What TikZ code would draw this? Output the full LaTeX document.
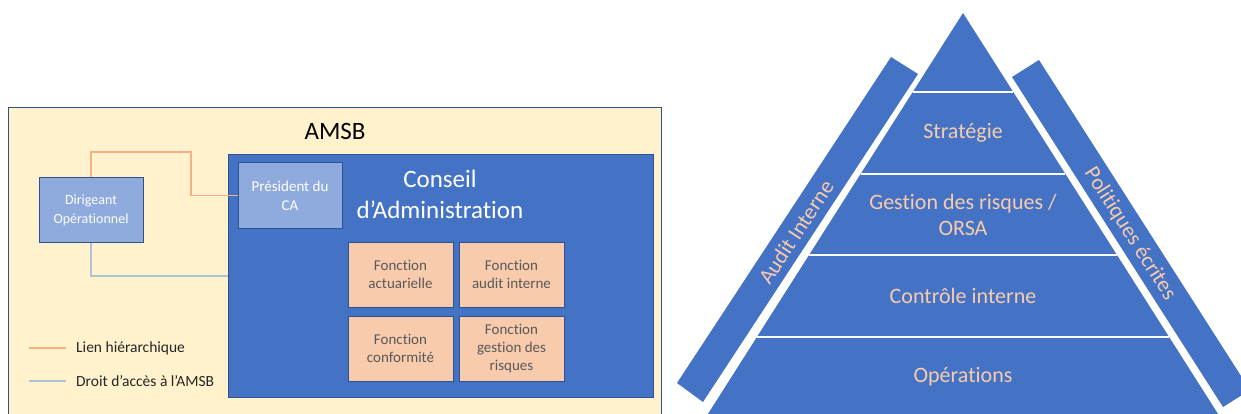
\documentclass[tikz,border=0pt]{standalone}
\usepackage{fontspec}
\setmainfont{Carlito}[Ligatures={NoCommon}]
\definecolor{amsbfill}{HTML}{FFF2CC}
\definecolor{darkb}{HTML}{2F528F}
\definecolor{mainb}{HTML}{4472C4}
\definecolor{lightb}{HTML}{8FAADC}
\definecolor{peach}{HTML}{F8CBAD}
\definecolor{orln}{HTML}{F4B183}
\definecolor{blln}{HTML}{AFC0DA}
\definecolor{greytxt}{HTML}{595959}
\definecolor{legtxt}{HTML}{262626}
\tikzset{
  box/.style={draw=darkb, line width=1pt, inner sep=0pt, align=center},
  person/.style={box, fill=lightb, text=white, minimum width=104pt, font=\fontsize{15}{19}\selectfont},
  fonction/.style={box, fill=peach, text=greytxt, minimum width=105pt, minimum height=65pt, font=\fontsize{15}{18}\selectfont},
  orangeln/.style={draw=orln, line width=1.2pt},
  blueln/.style={draw=blln, line width=1.2pt},
  legend/.style={anchor=west, inner sep=0pt, text=legtxt, font=\fontsize{15.5}{18}\selectfont},
  pyrtxt/.style={text=peach, align=center, inner sep=0pt, font=\fontsize{22}{26}\selectfont},
  sepline/.style={draw=white, line width=1.5pt},
}
\begin{document}
\begin{tikzpicture}[x=1pt,y=-1pt]
\useasboundingbox (0,0) rectangle (1241,414);
\clip (0,0) rectangle (1241,414);
% ---------- left panel ----------
\node[box, fill=amsbfill, minimum width=653pt, minimum height=312pt] (amsbbox) at (334.5,264) {};
\node[inner sep=0pt, font=\fontsize{25}{30}\selectfont] (amsb) at (335,131) {AMSB};
\node[box, fill=mainb, minimum width=425pt, minimum height=242pt] (conseil) at (440.5,276) {};
\node[text=white, align=center, inner sep=0pt, font=\fontsize{25}{31}\selectfont] (conseiltxt) at (440,194) {Conseil\\d’Administration};
\node[person, minimum height=65pt] (pres) at (290,195.5) {Président du\\CA};
\node[person, minimum height=64pt, font=\fontsize{14}{19}\selectfont] (dir) at (91,210) {Dirigeant\\Opérationnel};
\node[fonction] (f1) at (400.5,274.5) {Fonction\\actuarielle};
\node[fonction] (f2) at (511.5,274.5) {Fonction\\audit interne};
\node[fonction] (f3) at (400.5,348.5) {Fonction\\conformité};
\node[fonction] (f4) at (511.5,348.5) {Fonction\\gestion des\\risques};
% connectors
\coordinate (ocorner) at (191,152);
\draw[orangeln] (dir.north) |- (ocorner) |- (pres.west);
\draw[blueln] (dir.south) |- (conseil.west);
% legend
\coordinate (l1a) at (29,348);
\coordinate (l1b) at (66,348);
\coordinate (l2a) at (29,381);
\coordinate (l2b) at (66,381);
\draw[orangeln] (l1a) -- (l1b);
\draw[blueln] (l2a) -- (l2b);
\node[legend] (leg1) at (76,348) {Lien hiérarchique};
\node[legend] (leg2) at (76,381) {Droit d’accès à l’AMSB};
% ---------- pyramid ----------
\fill[mainb] (963,13) -- (704.1,420) -- (1221.9,420) -- cycle;
\draw[sepline] (912.8,92) -- (1013.2,92);
\draw[sepline] (860.6,174) -- (1065.4,174);
\draw[sepline] (809.1,255) -- (1116.9,255);
\draw[sepline] (756.9,337) -- (1169.1,337);
\fill[mainb] (891,57) -- (918,74) -- (703,402) -- (677,383) -- cycle;
\fill[mainb] (1039,60) -- (1012,77) -- (1223,407) -- (1250,390) -- cycle;
\node[pyrtxt] (strat) at (963,133) {Stratégie};
\node[pyrtxt] (gest) at (963,215) {Gestion des risques /\\ORSA};
\node[pyrtxt] (ctrl) at (963,296) {Contrôle interne};
\node[pyrtxt] (ops) at (963,377) {Opérations};
\node[pyrtxt, rotate=56.8] (audit) at (796,232) {Audit Interne};
\node[pyrtxt, rotate=-57.4] (polit) at (1130,234) {Politiques écrites};
\end{tikzpicture}
\end{document}
